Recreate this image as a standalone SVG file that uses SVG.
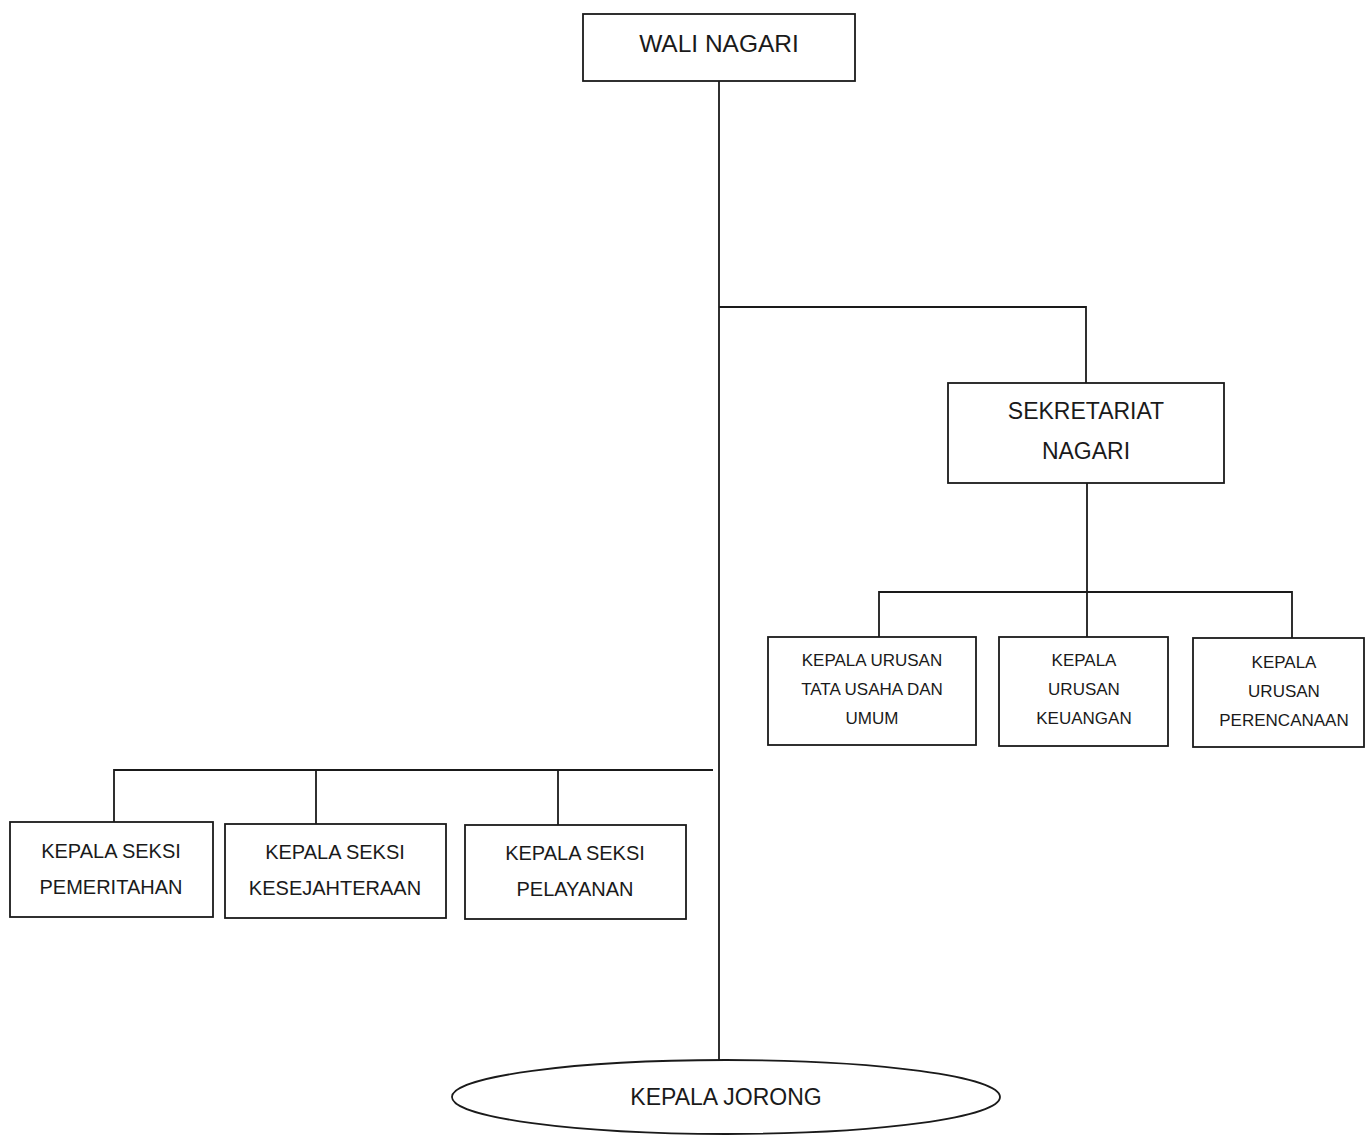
<svg xmlns="http://www.w3.org/2000/svg" width="1365" height="1136" viewBox="0 0 1365 1136">
<style>
.box{fill:#fff;stroke:#1a1a1a;stroke-width:1.8}
.ln{fill:none;stroke:#1a1a1a;stroke-width:1.8}
text{font-family:"Liberation Sans",Arial,sans-serif;fill:#1a1a1a;text-anchor:middle}
.t0{font-size:24.5px}
.t1{font-size:23px}
.t2{font-size:20px}
.t3{font-size:17px}
</style>
<rect width="1365" height="1136" fill="#fff"/>
<g id="connectors">
<path class="ln" d="M719 81 V1060"/>
<path class="ln" d="M719 307 H1086 V383"/>
<path class="ln" d="M1087 483 V637"/>
<path class="ln" d="M879 637 V592 H1292 V638"/>
<path class="ln" d="M114 823 V770 H713"/>
<path class="ln" d="M316 770 V824"/>
<path class="ln" d="M558 770 V825"/>
</g>
<g id="wali-nagari">
<rect class="box" x="583" y="14" width="272" height="67"/>
<text class="t0" x="719" y="52">WALI NAGARI</text>
</g>
<g id="sekretariat-nagari">
<rect class="box" x="948" y="383" width="276" height="100"/>
<text class="t1" x="1086" y="419">SEKRETARIAT</text>
<text class="t1" x="1086" y="459">NAGARI</text>
</g>
<g id="kaur-tu">
<rect class="box" x="768" y="637" width="208" height="108"/>
<text class="t3" x="872" y="666">KEPALA URUSAN</text>
<text class="t3" x="872" y="695">TATA USAHA DAN</text>
<text class="t3" x="872" y="724">UMUM</text>
</g>
<g id="kaur-keuangan">
<rect class="box" x="999" y="637" width="169" height="109"/>
<text class="t3" x="1084" y="666">KEPALA</text>
<text class="t3" x="1084" y="695">URUSAN</text>
<text class="t3" x="1084" y="724">KEUANGAN</text>
</g>
<g id="kaur-perencanaan">
<rect class="box" x="1193" y="638" width="171" height="109"/>
<text class="t3" x="1284" y="668">KEPALA</text>
<text class="t3" x="1284" y="697">URUSAN</text>
<text class="t3" x="1284" y="726">PERENCANAAN</text>
</g>
<g id="kasi-pemerintahan">
<rect class="box" x="10" y="822" width="203" height="95"/>
<text class="t2" x="111" y="858">KEPALA SEKSI</text>
<text class="t2" x="111" y="894">PEMERITAHAN</text>
</g>
<g id="kasi-kesejahteraan">
<rect class="box" x="225" y="824" width="221" height="94"/>
<text class="t2" x="335" y="859">KEPALA SEKSI</text>
<text class="t2" x="335" y="895">KESEJAHTERAAN</text>
</g>
<g id="kasi-pelayanan">
<rect class="box" x="465" y="825" width="221" height="94"/>
<text class="t2" x="575" y="860">KEPALA SEKSI</text>
<text class="t2" x="575" y="896">PELAYANAN</text>
</g>
<g id="kepala-jorong">
<ellipse class="box" cx="726" cy="1097" rx="274" ry="37"/>
<text class="t1" x="726" y="1105">KEPALA JORONG</text>
</g>
</svg>
